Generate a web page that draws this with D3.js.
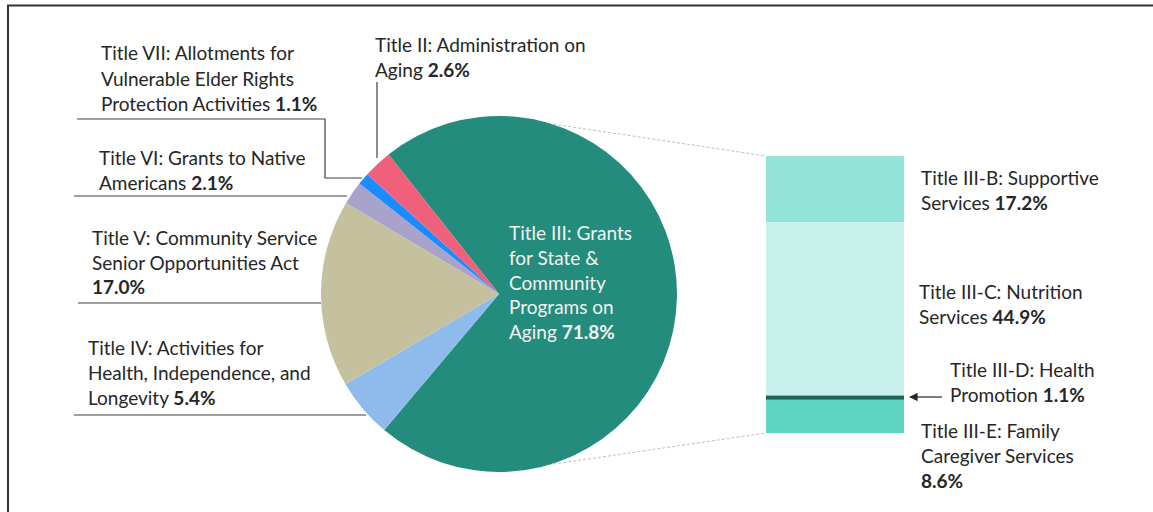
<!DOCTYPE html>
<html>
<head>
<meta charset="utf-8">
<script src="https://cdn.jsdelivr.net/npm/d3@7/dist/d3.min.js"></script>
<style>
  html, body { margin: 0; padding: 0; background: #fff; }
  svg { display: block; }
  text { font-family: Lato, "Open Sans", sans-serif; font-size: 19px; fill: #262626; }
</style>
</head>
<body>
<svg id="chart" width="1153" height="512"></svg>
<script>
// ---- data ----
const pieNames = ["Title III", "Title IV", "Title V", "Title VI", "Title VII", "Title II"];
const pieValues = [71.8, 5.4, 17.0, 2.1, 1.1, 2.6];
const pieColors = ["#238C7C", "#8EBBEB", "#C5C19F", "#A9A3CC", "#1A8CFF", "#F0607A"];

const barNames = ["Title III-B", "Title III-C", "Title III-D", "Title III-E"];
const barValues = [17.2, 44.9, 1.1, 8.6];
const barColors = ["#93E4D8", "#C8F1EC", "#1F6158", "#5ED6C3"];

// label texts: lines, with the bold value appended to the last line
const pieLabels = [
  {lines: ["Title III: Grants", "for State &", "Community", "Programs on", "Aging "], val: "71.8%"},
  {lines: ["Title IV: Activities for", "Health, Independence, and", "Longevity "], val: "5.4%"},
  {lines: ["Title V: Community Service", "Senior Opportunities Act", ""], val: "17.0%"},
  {lines: ["Title VI: Grants to Native", "Americans "], val: "2.1%"},
  {lines: ["Title VII: Allotments for", "Vulnerable Elder Rights", "Protection Activities "], val: "1.1%"},
  {lines: ["Title II: Administration on", "Aging "], val: "2.6%"}
];
const barLabels = [
  {lines: ["Title III-B: Supportive", "Services "], val: "17.2%"},
  {lines: ["Title III-C: Nutrition", "Services "], val: "44.9%"},
  {lines: ["Title III-D: Health", "Promotion "], val: "1.1%"},
  {lines: ["Title III-E: Family", "Caregiver Services", ""], val: "8.6%"}
];

// ---- layout ----
const svg = d3.select("#chart");
const cx = 499, cy = 294, R = 178;

// frame
svg.append("path").attr("d", "M8,512 V5.5 H1153").attr("fill", "none")
  .attr("stroke", "#333").attr("stroke-width", 2);

const startAngle = -0.1065 * 2 * Math.PI; // Title II / Title III boundary at upper left
const pie = d3.pie().sort(null).value(d => d).startAngle(startAngle).endAngle(startAngle + 2 * Math.PI);
const arcs = pie(pieValues);
const arc = d3.arc().innerRadius(0).outerRadius(R);

// bar scale
const barTop = 156, barBottom = 433, barX = 766, barW = 138;
const y = d3.scaleLinear().domain([0, d3.sum(barValues)]).range([barTop, barBottom]);
const cum = d3.cumsum(barValues);
const starts = [0, ...cum.slice(0, -1)];

// connector dashed lines (behind pie)
const conn = svg.append("g").attr("stroke", "#BFBFBF").attr("stroke-width", 1).attr("stroke-dasharray", "3,2");
conn.append("line").attr("x1", cx).attr("y1", cy - R).attr("x2", barX).attr("y2", y(0));
conn.append("line").attr("x1", cx).attr("y1", cy + R).attr("x2", barX).attr("y2", y(d3.sum(barValues)));

const g = svg.append("g").attr("transform", `translate(${cx},${cy})`);
g.selectAll("path").data(arcs).join("path")
  .attr("d", arc).attr("fill", (d, i) => pieColors[i]);

// bars
svg.append("g").selectAll("rect").data(barValues).join("rect")
  .attr("x", barX).attr("width", barW)
  .attr("y", (d, i) => y(starts[i]))
  .attr("height", (d, i) => y(starts[i] + d) - y(starts[i]))
  .attr("fill", (d, i) => barColors[i]);

// leader lines
const lead = svg.append("g").attr("fill", "none").attr("stroke", "#404040").attr("stroke-width", 1.2);
lead.append("path").attr("d", "M77,119 H325 V178 H362");   // Title VII
lead.append("path").attr("d", "M74,196 H347");             // Title VI
lead.append("path").attr("d", "M78,303 H321");             // Title V
lead.append("path").attr("d", "M74,415 H366");             // Title IV
lead.append("path").attr("d", "M377,82 V158");             // Title II

// arrow for III-D
svg.append("defs").append("marker").attr("id", "arr").attr("viewBox", "0 0 10 10")
  .attr("refX", 9).attr("refY", 5).attr("markerWidth", 7).attr("markerHeight", 7)
  .attr("orient", "auto")
  .append("path").attr("d", "M0,0 L10,5 L0,10 z").attr("fill", "#262626");
svg.append("line").attr("x1", 942).attr("y1", 397).attr("x2", 910).attr("y2", 397)
  .attr("stroke", "#262626").attr("stroke-width", 1.2).attr("marker-end", "url(#arr)");

// label placement: [x, first-line center y, line spacing, color]
const piePos = [[509, 232, 24.8, "#F2F2F2"], [88, 347, 25, null], [92, 237, 24.5, null],
                [99, 157, 25, null], [101, 52, 25.5, null], [375, 44, 25, null]];
const barPos = [[921, 177, 24.5], [919, 291, 25], [950, 369, 24.5], [921, 430, 25]];

function drawLabel(lbl, x, y0, dy, color) {
  const t = svg.append("text").attr("x", x).attr("y", y0).attr("dominant-baseline", "central");
  if (color) t.style("fill", color);
  const n = lbl.lines.length;
  lbl.lines.forEach((ln, i) => {
    const yy = y0 + i * dy;
    if (ln !== "") t.append("tspan").attr("x", x).attr("y", yy).text(ln);
    if (i === n - 1) {
      const b = t.append("tspan").attr("y", yy).style("font-weight", "bold").text(lbl.val);
      if (ln === "") b.attr("x", x);
    }
  });
}
pieLabels.forEach((l, i) => drawLabel(l, piePos[i][0], piePos[i][1], piePos[i][2], piePos[i][3]));
barLabels.forEach((l, i) => drawLabel(l, barPos[i][0], barPos[i][1], barPos[i][2], null));
</script>
</body>
</html>
